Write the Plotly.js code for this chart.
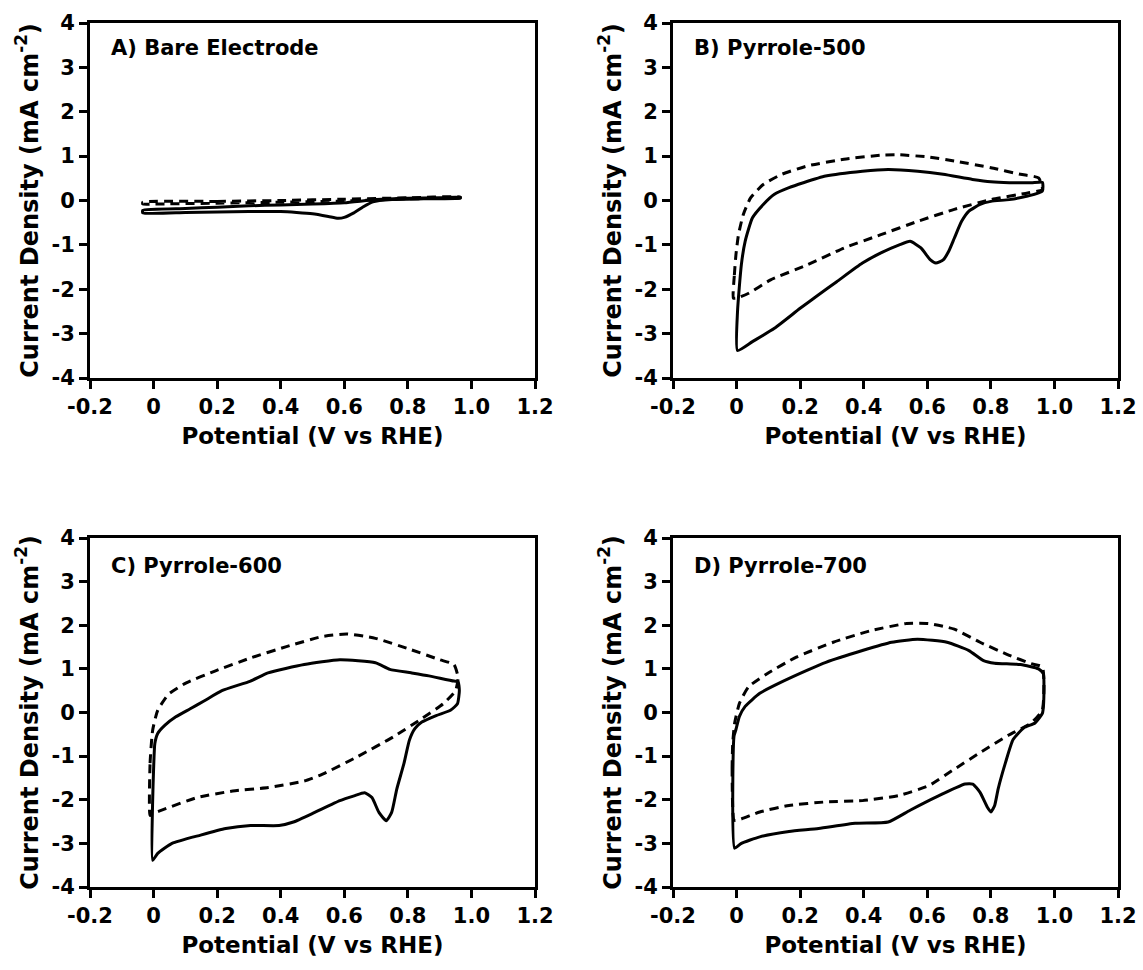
<!DOCTYPE html>
<html><head><meta charset="utf-8">
<script src="https://cdn.plot.ly/plotly-3.0.1.min.js"></script>
<style>html,body{margin:0;padding:0;background:#fff}</style>
</head><body><div id="chart" style="width:1143px;height:970px"></div>
<script>
const panelLabels = ["A) Bare Electrode", "B) Pyrrole-500", "C) Pyrrole-600", "D) Pyrrole-700"];
const xTickVals = [-0.2, 0, 0.2, 0.4, 0.6, 0.8, 1.0, 1.2];
const xTickText = ["-0.2", "0", "0.2", "0.4", "0.6", "0.8", "1.0", "1.2"];
const yTickVals = [-4, -3, -2, -1, 0, 1, 2, 3, 4];
const yTickText = ["-4", "-3", "-2", "-1", "0", "1", "2", "3", "4"];
const xTitle = "Potential (V vs RHE)";
const yTitle = "Current Density (mA cm<sup>-2</sup>)";

// Panel A: bare electrode
const aSolidX = [-0.034, 0.1, 0.2, 0.3, 0.4, 0.5, 0.6, 0.7, 0.8, 0.9, 0.965, 0.965, 0.85, 0.75, 0.69, 0.66, 0.63, 0.6, 0.58, 0.55, 0.5, 0.45, 0.4, 0.3, 0.2, 0.1, -0.034, -0.034];
const aSolidY = [-0.22, -0.18, -0.15, -0.12, -0.1, -0.08, -0.05, 0.02, 0.05, 0.06, 0.07, 0.05, 0.04, 0.02, -0.03, -0.14, -0.28, -0.38, -0.4, -0.36, -0.3, -0.27, -0.25, -0.25, -0.26, -0.27, -0.28, -0.22];
const aDashX = [-0.034, 0.2, 0.4, 0.6, 0.8, 0.965, 0.965, 0.8, 0.6, 0.4, 0.2, 0.0, -0.034, -0.034];
const aDashY = [-0.04, -0.02, 0.0, 0.03, 0.06, 0.08, 0.06, 0.04, -0.01, -0.04, -0.06, -0.08, -0.08, -0.04];

// Panel B: Pyrrole-500
const bSolidX = [0.003, 0.003, 0.015, 0.027, 0.05, 0.084, 0.119, 0.165, 0.21, 0.28, 0.396, 0.477, 0.57, 0.65, 0.742, 0.8, 0.858, 0.927, 0.962, 0.962, 0.916, 0.858, 0.8, 0.766, 0.731, 0.708, 0.685, 0.667, 0.65, 0.627, 0.61, 0.58, 0.546, 0.512, 0.454, 0.396, 0.315, 0.257, 0.2, 0.119, 0.05, 0.003];
const bSolidY = [-3.38, -2.5, -1.45, -0.92, -0.39, -0.09, 0.14, 0.29, 0.4, 0.55, 0.66, 0.70, 0.66, 0.59, 0.475, 0.42, 0.40, 0.40, 0.41, 0.21, 0.10, 0.02, -0.02, -0.09, -0.24, -0.47, -0.85, -1.15, -1.34, -1.41, -1.34, -1.07, -0.92, -1.0, -1.18, -1.41, -1.83, -2.13, -2.43, -2.88, -3.18, -3.38];
const bDashX = [-0.01, -0.007, -0.002, 0.006, 0.021, 0.044, 0.084, 0.142, 0.223, 0.338, 0.454, 0.512, 0.604, 0.685, 0.8, 0.893, 0.95, 0.962, 0.916, 0.8, 0.685, 0.57, 0.454, 0.338, 0.223, 0.107, 0.038, 0.0, -0.01];
const bDashY = [-2.2, -1.68, -1.22, -0.77, -0.32, 0.06, 0.36, 0.59, 0.78, 0.93, 1.02, 1.03, 0.98, 0.89, 0.74, 0.59, 0.51, 0.25, 0.17, 0.02, -0.2, -0.47, -0.77, -1.07, -1.45, -1.79, -2.09, -2.2, -2.2];

// Panel C: Pyrrole-600
const cSolidX = [-0.003, -0.003, 0.0, 0.004, 0.013, 0.036, 0.07, 0.114, 0.16, 0.215, 0.305, 0.36, 0.474, 0.586, 0.698, 0.743, 0.81, 0.866, 0.945, 0.958, 0.962, 0.956, 0.934, 0.889, 0.844, 0.822, 0.805, 0.788, 0.765, 0.749, 0.732, 0.709, 0.687, 0.664, 0.631, 0.586, 0.507, 0.44, 0.395, 0.305, 0.227, 0.148, 0.058, 0.013, -0.003];
const cSolidY = [-3.39, -2.06, -1.31, -0.71, -0.48, -0.29, -0.1, 0.08, 0.27, 0.5, 0.72, 0.91, 1.1, 1.21, 1.14, 0.99, 0.91, 0.84, 0.72, 0.71, 0.5, 0.2, 0.05, -0.07, -0.22, -0.37, -0.63, -1.16, -1.76, -2.29, -2.48, -2.29, -1.95, -1.84, -1.91, -2.02, -2.29, -2.51, -2.59, -2.59, -2.66, -2.81, -3.0, -3.23, -3.39];
const cDashX = [-0.011, -0.011, -0.003, 0.013, 0.047, 0.103, 0.193, 0.305, 0.418, 0.53, 0.608, 0.698, 0.81, 0.9, 0.945, 0.958, 0.95, 0.911, 0.844, 0.754, 0.642, 0.53, 0.474, 0.361, 0.249, 0.137, 0.036, -0.003, -0.011];
const cDashY = [-2.36, -1.16, -0.41, 0.05, 0.42, 0.68, 0.95, 1.25, 1.51, 1.74, 1.8, 1.7, 1.44, 1.21, 1.1, 0.8, 0.5, 0.2, -0.14, -0.56, -1.01, -1.42, -1.57, -1.72, -1.8, -1.95, -2.21, -2.32, -2.36];

// Panel D: Pyrrole-700
const dSolidX = [-0.006, -0.008, -0.002, 0.009, 0.027, 0.073, 0.142, 0.223, 0.281, 0.396, 0.488, 0.569, 0.662, 0.731, 0.777, 0.812, 0.893, 0.95, 0.965, 0.966, 0.962, 0.939, 0.904, 0.87, 0.846, 0.823, 0.812, 0.8, 0.789, 0.766, 0.743, 0.719, 0.627, 0.546, 0.477, 0.373, 0.258, 0.165, 0.073, 0.015, -0.006];
const dSolidY = [-3.11, -0.54, -0.39, -0.09, 0.14, 0.44, 0.7, 0.97, 1.15, 1.42, 1.61, 1.68, 1.61, 1.42, 1.19, 1.13, 1.1, 1.0, 0.89, 0.21, -0.02, -0.24, -0.35, -0.62, -1.15, -1.75, -2.13, -2.28, -2.17, -1.83, -1.64, -1.64, -1.94, -2.24, -2.51, -2.54, -2.66, -2.73, -2.85, -3.0, -3.11];
const dDashX = [-0.008, -0.014, -0.012, -0.006, 0.009, 0.038, 0.096, 0.188, 0.304, 0.419, 0.535, 0.604, 0.685, 0.766, 0.858, 0.927, 0.962, 0.962, 0.927, 0.858, 0.766, 0.685, 0.604, 0.512, 0.396, 0.281, 0.165, 0.073, 0.003, -0.008];
const dDashY = [-2.47, -1.3, -0.69, -0.24, 0.21, 0.59, 0.89, 1.27, 1.61, 1.87, 2.04, 2.04, 1.91, 1.61, 1.31, 1.12, 1.04, 0.06, -0.24, -0.51, -0.92, -1.3, -1.68, -1.9, -2.02, -2.05, -2.13, -2.28, -2.47, -2.47];

const panels = [
  {sx: aSolidX, sy: aSolidY, dx: aDashX, dy: aDashY},
  {sx: bSolidX, sy: bSolidY, dx: bDashX, dy: bDashY},
  {sx: cSolidX, sy: cSolidY, dx: cDashX, dy: cDashY},
  {sx: dSolidX, sy: dSolidY, dx: dDashX, dy: dDashY}
];

const W = 1143, H = 970;
const xDomains = [[90/W, 535/W], [673/W, 1118/W]];
const yDomains = [[1 - 378/H, 1 - 23/H], [1 - 887/H, 1 - 538/H]];
const labelPos = [[109, 48], [692, 48], [109, 566], [692, 566]];

const FONT = "DejaVu Sans, Arial, sans-serif";
const traces = [];
const layout = {
  width: W, height: H,
  margin: {l: 0, r: 0, t: 0, b: 0},
  paper_bgcolor: "#fff", plot_bgcolor: "#fff",
  showlegend: false,
  font: {family: FONT, color: "#000"},
  annotations: []
};

panels.forEach((p, i) => {
  const n = i + 1;
  const xa = n === 1 ? "x" : "x" + n;
  const ya = n === 1 ? "y" : "y" + n;
  traces.push({x: p.dx, y: p.dy, xaxis: xa, yaxis: ya, mode: "lines", type: "scatter",
    line: {color: "#000", width: 3, dash: "9px,6px", shape: "spline", smoothing: 0.5}, hoverinfo: "skip"});
  traces.push({x: p.sx, y: p.sy, xaxis: xa, yaxis: ya, mode: "lines", type: "scatter",
    line: {color: "#000", width: 3, shape: "spline", smoothing: 0.5}, hoverinfo: "skip"});
  const common = {showline: true, linewidth: 3, linecolor: "#000", mirror: true,
    ticks: "outside", ticklen: 8, tickwidth: 3, tickcolor: "#000",
    showgrid: false, zeroline: false,
    tickfont: {family: FONT, size: 21, weight: "bold", color: "#000"}};
  layout["xaxis" + (n === 1 ? "" : n)] = Object.assign({}, common, {
    domain: xDomains[i % 2], range: [-0.2, 1.2], anchor: ya,
    tickmode: "array", tickvals: xTickVals, ticktext: xTickText,
    title: {text: xTitle, font: {family: FONT, size: 23, weight: "bold", color: "#000"}, standoff: 10}
  });
  layout["yaxis" + (n === 1 ? "" : n)] = Object.assign({}, common, {
    domain: yDomains[Math.floor(i / 2)], range: [-4, 4], anchor: xa,
    tickmode: "array", tickvals: yTickVals, ticktext: yTickText,
    title: {text: yTitle, font: {family: FONT, size: 24, weight: "bold", color: "#000"}, standoff: 7}
  });
  layout.annotations.push({text: panelLabels[i], xref: "paper", yref: "paper",
    x: labelPos[i][0] / W, y: 1 - labelPos[i][1] / H, xanchor: "left", yanchor: "middle",
    showarrow: false, font: {family: FONT, size: 21, weight: "bold", color: "#000"}});
});

Plotly.newPlot("chart", traces, layout, {staticPlot: true, displayModeBar: false});
</script>
</body></html>
